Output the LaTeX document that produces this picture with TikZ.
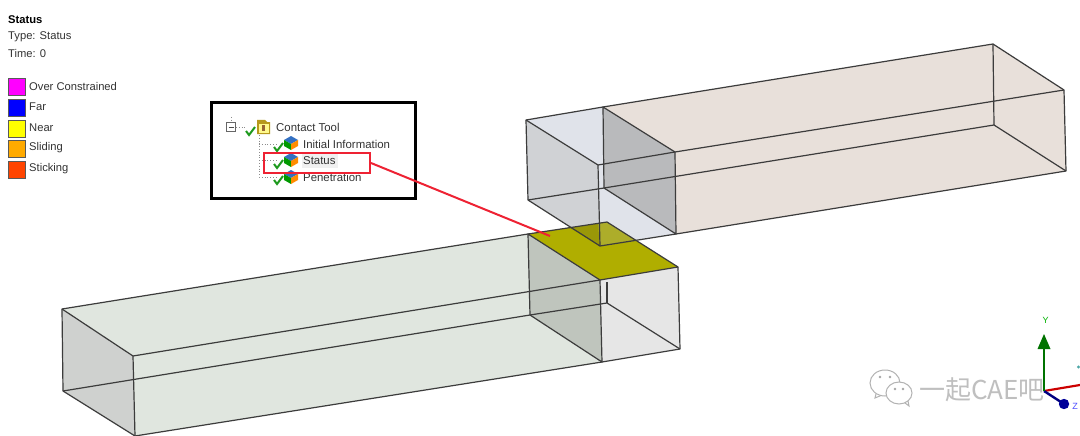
\documentclass[tikz,border=0pt]{standalone}
\usepackage{fontspec}
\setmainfont{Liberation Sans}
\newfontfamily\cjkwm{Noto Sans CJK SC}
\usetikzlibrary{arrows.meta}
\definecolor{edgec}{HTML}{3C3C3C}
\definecolor{greenbody}{HTML}{E0E6DF}
\definecolor{greenface}{HTML}{BFC5BD}
\definecolor{greyface}{HTML}{CFD1CF}
\definecolor{palegrey}{HTML}{E6E6E6}
\definecolor{tanbody}{HTML}{E8E0DA}
\definecolor{blueface}{HTML}{E0E3EA}
\definecolor{bluegrey}{HTML}{D0D2D5}
\definecolor{darkgrey}{HTML}{B9BABC}
\definecolor{olive}{HTML}{B0AE00}
\definecolor{olivedark}{HTML}{9A9808}
\definecolor{olivelight}{HTML}{ADAD2A}
\definecolor{redline}{HTML}{EE2233}
\definecolor{txt}{HTML}{333333}
\definecolor{chk}{HTML}{1E9A1E}
\definecolor{swmag}{HTML}{FF00FF}
\definecolor{swblue}{HTML}{0000FF}
\definecolor{swyel}{HTML}{FFFF00}
\definecolor{sworg}{HTML}{FFAA00}
\definecolor{swred}{HTML}{FF4400}
\tikzset{
  edge3d/.style={draw=edgec,line width=1.2pt,line join=round},
  legendtxt/.style={anchor=west,inner sep=0pt,font=\fontsize{11.2}{12}\selectfont,text=txt},
  swatch/.style={draw=black!65,line width=1pt,minimum width=17pt,minimum height=17pt,inner sep=0pt,anchor=north west},
  treetxt/.style={anchor=west,inner sep=0pt,font=\fontsize{11.4}{12}\selectfont,text=txt},
  treedot/.style={draw=black!45,line width=.8pt,dotted},
}
\newcommand{\chkmark}[2]{\draw[chk,line width=2pt] (#1-4,#2-2) -- (#1-1,#2+2) -- (#1+5,#2-6);}
\newcommand{\meshcube}[2]{%
  \fill[blue!40!teal!80] (#1-7,#2-3) -- (#1,#2-7) -- (#1+7,#2-3) -- (#1,#2+1) -- cycle;
  \fill[green!60!black] (#1-7,#2-3) -- (#1,#2+1) -- (#1,#2+7) -- (#1-7,#2+3) -- cycle;
  \fill[orange!90!yellow] (#1+7,#2-3) -- (#1,#2+1) -- (#1,#2+7) -- (#1+7,#2+3) -- cycle;
}
\begin{document}
\begin{tikzpicture}[x=1pt,y=-1pt]
\useasboundingbox (0,0) rectangle (1080,436);
\fill[white] (0,0) rectangle (1080,436);
% named corners
\coordinate (ua) at (526,120); \coordinate (ub) at (603,107); \coordinate (uc) at (675,152); \coordinate (ud) at (598,165);
\coordinate (ue) at (528,200); \coordinate (uf) at (604,188); \coordinate (ug) at (676,234); \coordinate (uh) at (600,246);
\coordinate (ui) at (993,44); \coordinate (uj) at (1064,90); \coordinate (uk) at (1066,171); \coordinate (ul) at (994,125);
\coordinate (la) at (62,309); \coordinate (lb) at (133,356); \coordinate (lc) at (135,436); \coordinate (ld) at (63,391);
\coordinate (le) at (528,234); \coordinate (lf) at (600,280); \coordinate (lg) at (602,362); \coordinate (lh) at (530,315);
\coordinate (lm) at (607,222); \coordinate (ln) at (678,267); \coordinate (lo) at (680,349); \coordinate (lp) at (607,303);
% upper block
\fill[tanbody] (ub) -- (ui) -- (uj) -- (uk) -- (ug) -- (uc) -- cycle;
\fill[blueface] (ua) -- (ub) -- (uc) -- (ug) -- (uh) -- (ue) -- cycle;
\fill[bluegrey] (ua) -- (ud) -- (uh) -- (ue) -- cycle;
\fill[darkgrey] (ub) -- (uc) -- (ug) -- (uf) -- cycle;
% lower block
\fill[greenbody] (la) -- (le) -- (lf) -- (lg) -- (lc) -- (ld) -- cycle;
\fill[greyface] (la) -- (lb) -- (lc) -- (ld) -- cycle;
\fill[greenface] (le) -- (lf) -- (lg) -- (lh) -- cycle;
\fill[palegrey] (lf) -- (ln) -- (lo) -- (lg) -- cycle;
% contact patch
\fill[olive] (le) -- (lm) -- (ln) -- (lf) -- cycle;
\fill[olivedark] (570,228) -- (598,223.5) -- (uh) -- cycle;
\fill[olivelight] (598,223.5) -- (lm) -- (636,241) -- (uh) -- cycle;
% upper edges
\draw[edge3d] (ua) -- (ub) -- (ui) -- (uj) -- (uk) -- (ug) -- (uh) -- (ue) -- cycle;
\draw[edge3d] (ua) -- (ud) -- (uh);
\draw[edge3d] (ud) -- (uc) -- (uj);
\draw[edge3d] (ue) -- (uf) -- (ul) -- (uk);
\draw[edge3d] (ub) -- (uc) -- (ug) -- (uf) -- cycle;
\draw[edge3d] (ui) -- (ul);
% lower edges
\draw[edge3d] (la) -- (le) -- (lm) -- (ln) -- (lo) -- (lg) -- (lc) -- (ld) -- cycle;
\draw[edge3d] (la) -- (lb) -- (lc);
\draw[edge3d] (lb) -- (lf) -- (ln);
\draw[edge3d] (ld) -- (lh) -- (lp) -- (lo);
\draw[edge3d] (le) -- (lf) -- (lg) -- (lh) -- cycle;
\draw[edge3d] (607,282) -- (lp);
% legend
\node[anchor=west,inner sep=0pt,font=\fontsize{11.2}{12}\selectfont\bfseries,text=black] (t1) at (8,20) {Status};
\node[legendtxt] (t2) at (8,37) {Type: Status};
\node[legendtxt] (t3) at (8,53.5) {Time: 0};
\node[swatch,fill=swmag] (s1) at (8,78) {};
\node[swatch,fill=swblue] (s2) at (8,99) {};
\node[swatch,fill=swyel] (s3) at (8,119.5) {};
\node[swatch,fill=sworg] (s4) at (8,140) {};
\node[swatch,fill=swred] (s5) at (8,160.5) {};
\node[legendtxt] (l1) at (29,86.5) {Over Constrained};
\node[legendtxt] (l2) at (29,107) {Far};
\node[legendtxt] (l3) at (29,127.5) {Near};
\node[legendtxt] (l4) at (29,148) {Sliding};
\node[legendtxt] (l5) at (29,168.5) {Sticking};
% tree panel
\node[draw=black,line width=2.6pt,fill=white,minimum width=204pt,minimum height=96pt,inner sep=0pt,anchor=north west] (panel) at (210,101) {};
\fill[black!6] (302,153) rectangle (338,168);
\draw[treedot] (231,117) -- (231,123);
\draw[treedot] (236,127) -- (247,127);
\draw[treedot] (259,135) -- (259,177) -- (276,177);
\draw[treedot] (259,144) -- (276,144);
\draw[treedot] (259,160) -- (276,160);
\node[draw=black!60,fill=white,line width=.8pt,minimum width=9pt,minimum height=9pt,inner sep=0pt] (minus) at (231,127) {};
\draw[black!70,line width=.8pt] (228.5,127) -- (233.5,127);
\fill[olive!55!brown] (257,120) -- (265,120) -- (267,122) -- (270,122) -- (270,134) -- (257,134) -- cycle;
\fill[yellow!45!white] (258.5,123.5) rectangle (268.5,132.5);
\fill[brown!80!black] (262,125) rectangle (265,131);
\chkmark{250}{133}
\chkmark{278}{149}
\chkmark{278}{166}
\chkmark{278}{182}
\meshcube{291}{143}
\meshcube{291}{160}
\meshcube{291}{177}
\node[treetxt] (n0) at (276,127) {Contact Tool};
\node[treetxt] (n1) at (303,144) {Initial Information};
\node[treetxt] (n2) at (303,160.5) {Status};
\node[treetxt] (n3) at (303,177) {Penetration};
\node[draw=redline,line width=2pt,minimum width=106pt,minimum height=20pt,inner sep=0pt,anchor=north west] (statusbox) at (263,152) {};
\coordinate (patchpt) at (550,236);
\draw[redline,line width=2pt] (statusbox.east) -- (patchpt);
% watermark
\begin{scope}[draw=black!30,line width=1pt,fill=white]
\draw[fill=white] (885,383) ellipse (15 and 13);
\draw (876,394) -- (875,398) -- (881,395.5);
\draw[fill=white] (899,393) ellipse (13 and 11);
\draw (905,403) -- (909,406) -- (908,401);
\fill[black!35] (880,377) circle (1.4) (890,377) circle (1.4) (895,389) circle (1.4) (903,389) circle (1.4);
\end{scope}
\node[anchor=west,inner sep=0pt,font=\cjkwm\fontsize{26}{28}\selectfont,text=black!25] (wm) at (919,390) {一起CAE吧};
% triad
\coordinate (o) at (1044,391);
\coordinate (ytip) at (1044,334);
\coordinate (ztip) at (1064,404);
\coordinate (xtip) at (1080,385);
\draw[red!80!black,line width=2.2pt] (o) -- (xtip);
\draw[blue!50!black,line width=2.4pt] (o) -- (ztip);
\fill[blue!60!black] (ztip) circle (5.2);
\draw[green!45!black,line width=2.6pt] (o) -- (1044,348);
\fill[green!45!black] (ytip) -- (1050.5,349) -- (1037.5,349) -- cycle;
\node[inner sep=0pt,font=\fontsize{9}{10}\selectfont,text=green!70!black] (ylab) at (1045.5,320) {Y};
\node[inner sep=0pt,font=\fontsize{9}{10}\selectfont,text=blue!70!white] (zlab) at (1075,406.5) {Z};
\fill[teal!70] (1078.5,367) circle (1.6);
\end{tikzpicture}
\end{document}
